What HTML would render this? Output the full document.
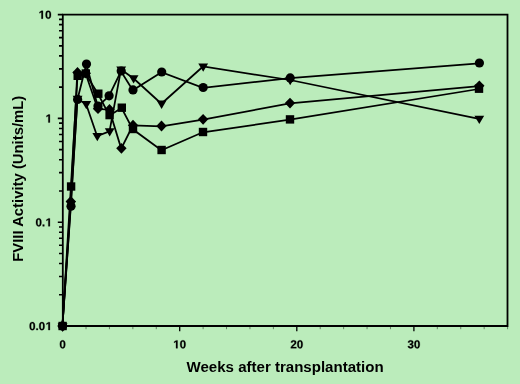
<!DOCTYPE html>
<html><head><meta charset="utf-8"><style>
html,body{margin:0;padding:0;background:#bbecbb;}
body{width:520px;height:384px;overflow:hidden;font-family:"Liberation Sans",sans-serif;}
svg{display:block;filter:blur(0.35px);}
</style></head><body>
<svg width="520" height="384" viewBox="0 0 520 384">
<rect width="520" height="384" fill="#bbecbb"/>
<path d="M62.8 14.7H507.5V326.0H62.8Z" fill="none" stroke="#000" stroke-width="1.8"/>
<path d="M57.8 326.00H62.8 M59.0 294.75H62.8 M59.0 276.47H62.8 M59.0 263.51H62.8 M59.0 253.45H62.8 M59.0 245.23H62.8 M59.0 238.28H62.8 M59.0 232.26H62.8 M59.0 226.95H62.8 M57.8 222.20H62.8 M59.0 190.95H62.8 M59.0 172.67H62.8 M59.0 159.71H62.8 M59.0 149.65H62.8 M59.0 141.43H62.8 M59.0 134.48H62.8 M59.0 128.46H62.8 M59.0 123.15H62.8 M57.8 118.40H62.8 M59.0 87.15H62.8 M59.0 68.87H62.8 M59.0 55.91H62.8 M59.0 45.85H62.8 M59.0 37.63H62.8 M59.0 30.68H62.8 M59.0 24.66H62.8 M59.0 19.35H62.8 M57.8 14.60H62.8" stroke="#000" stroke-width="1.6" fill="none"/>
<path d="M62.60 326.0V331.2 M179.70 326.0V331.2 M296.80 326.0V331.2 M413.90 326.0V331.2" stroke="#000" stroke-width="1.3" fill="none"/>
<path d="M86.02 326.0V329.2 M109.44 326.0V329.2 M132.86 326.0V329.2 M156.28 326.0V329.2 M203.12 326.0V329.2 M226.54 326.0V329.2 M249.96 326.0V329.2 M273.38 326.0V329.2 M320.22 326.0V329.2 M343.64 326.0V329.2 M367.06 326.0V329.2 M390.48 326.0V329.2 M437.32 326.0V329.2 M460.74 326.0V329.2 M484.16 326.0V329.2 M507.58 326.0V329.2" stroke="#000" stroke-opacity="0.45" stroke-width="1" fill="none"/>
<g transform="translate(-0.2 0.3)">
<polyline points="62.6,326.0 71.0,206.2 77.6,99.4 86.5,64.0 98.0,106.0 109.1,95.8 121.2,71.0 133.0,89.9 161.7,72.0 203.2,87.5 290.2,77.9 479.4,63.0" fill="none" stroke="#000" stroke-width="1.75" stroke-linejoin="miter"/>
<polyline points="62.6,326.0 71.0,204.0 77.6,98.6 86.3,103.7 97.3,135.8 109.7,131.0 121.2,69.2 133.6,78.0 161.6,103.4 203.2,66.2 290.2,79.7 479.3,118.6" fill="none" stroke="#000" stroke-width="1.75" stroke-linejoin="miter"/>
<polyline points="62.6,326.0 71.1,186.5 77.7,75.8 85.8,73.5 98.3,93.7 109.6,115.1 121.8,107.7 133.0,129.0 161.6,150.0 203.0,132.0 290.0,119.4 479.0,88.7" fill="none" stroke="#000" stroke-width="1.75" stroke-linejoin="miter"/>
<polyline points="62.6,326.0 70.8,201.4 77.5,72.4 85.8,73.2 98.0,108.7 109.5,109.4 121.4,148.3 133.0,125.2 161.5,126.0 203.1,119.3 290.0,103.1 479.3,85.8" fill="none" stroke="#000" stroke-width="1.75" stroke-linejoin="miter"/>
</g>
<g fill="#000"><rect x="58.4" y="321.8" width="8.4" height="8.4"/><rect x="66.9" y="182.3" width="8.4" height="8.4"/><rect x="73.5" y="71.6" width="8.4" height="8.4"/><rect x="81.6" y="69.3" width="8.4" height="8.4"/><rect x="94.1" y="89.5" width="8.4" height="8.4"/><rect x="105.4" y="110.9" width="8.4" height="8.4"/><rect x="117.6" y="103.5" width="8.4" height="8.4"/><rect x="128.8" y="124.8" width="8.4" height="8.4"/><rect x="157.4" y="145.8" width="8.4" height="8.4"/><rect x="198.8" y="127.8" width="8.4" height="8.4"/><rect x="285.8" y="115.2" width="8.4" height="8.4"/><rect x="474.8" y="84.5" width="8.4" height="8.4"/><polygon points="62.6,320.6 67.8,326.0 62.6,331.4 57.4,326.0"/><polygon points="70.8,196.0 76.0,201.4 70.8,206.8 65.6,201.4"/><polygon points="77.5,67.0 82.7,72.4 77.5,77.8 72.3,72.4"/><polygon points="85.8,67.8 91.0,73.2 85.8,78.6 80.6,73.2"/><polygon points="98.0,103.3 103.2,108.7 98.0,114.1 92.8,108.7"/><polygon points="109.5,104.0 114.7,109.4 109.5,114.8 104.3,109.4"/><polygon points="121.4,142.9 126.6,148.3 121.4,153.7 116.2,148.3"/><polygon points="133.0,119.8 138.2,125.2 133.0,130.6 127.8,125.2"/><polygon points="161.5,120.6 166.7,126.0 161.5,131.4 156.3,126.0"/><polygon points="203.1,113.9 208.3,119.3 203.1,124.7 197.9,119.3"/><polygon points="290.0,97.7 295.2,103.1 290.0,108.5 284.8,103.1"/><polygon points="479.3,80.4 484.5,85.8 479.3,91.2 474.1,85.8"/><polygon points="57.7,323.2 67.5,323.2 62.6,331.5"/><polygon points="66.1,201.2 75.9,201.2 71.0,209.5"/><polygon points="72.7,95.8 82.5,95.8 77.6,104.1"/><polygon points="81.4,100.9 91.2,100.9 86.3,109.2"/><polygon points="92.4,133.0 102.2,133.0 97.3,141.3"/><polygon points="104.8,128.2 114.6,128.2 109.7,136.5"/><polygon points="116.3,66.4 126.1,66.4 121.2,74.7"/><polygon points="128.7,75.2 138.5,75.2 133.6,83.5"/><polygon points="156.7,100.6 166.5,100.6 161.6,108.9"/><polygon points="198.3,63.4 208.1,63.4 203.2,71.7"/><polygon points="285.3,76.9 295.1,76.9 290.2,85.2"/><polygon points="474.4,115.8 484.2,115.8 479.3,124.1"/><circle cx="62.6" cy="326.0" r="4.6"/><circle cx="71.0" cy="206.2" r="4.6"/><circle cx="77.6" cy="99.4" r="4.6"/><circle cx="86.5" cy="64.0" r="4.6"/><circle cx="98.0" cy="106.0" r="4.6"/><circle cx="109.1" cy="95.8" r="4.6"/><circle cx="121.2" cy="71.0" r="4.6"/><circle cx="133.0" cy="89.9" r="4.6"/><circle cx="161.7" cy="72.0" r="4.6"/><circle cx="203.2" cy="87.5" r="4.6"/><circle cx="290.2" cy="77.9" r="4.6"/><circle cx="479.4" cy="63.0" r="4.6"/></g>
<defs><path id="g0" d="M1055 705Q1055 348 932.5 164Q810 -20 565 -20Q81 -20 81 705Q81 958 134 1118Q187 1278 293 1354Q399 1430 573 1430Q823 1430 939 1249Q1055 1068 1055 705ZM773 705Q773 900 754 1008Q735 1116 693 1163Q651 1210 571 1210Q486 1210 442.5 1162.5Q399 1115 380.5 1007.5Q362 900 362 705Q362 512 381.5 403.5Q401 295 443.5 248Q486 201 567 201Q647 201 690.5 250.5Q734 300 753.5 409Q773 518 773 705Z"/><path id="gd" d="M139 0V305H428V0Z"/><path id="g1" d="M478 0V1170L140 959V1180L493 1409H759V0Z"/><path id="g2" d="M71 0V195Q126 316 227.5 431Q329 546 483 671Q631 791 690.5 869Q750 947 750 1022Q750 1206 565 1206Q475 1206 427.5 1157.5Q380 1109 366 1012L83 1028Q107 1224 229.5 1327Q352 1430 563 1430Q791 1430 913 1326Q1035 1222 1035 1034Q1035 935 996 855Q957 775 896 707.5Q835 640 760.5 581Q686 522 616 466Q546 410 488.5 353Q431 296 403 231H1057V0Z"/><path id="g3" d="M1065 391Q1065 193 935 85Q805 -23 565 -23Q338 -23 204 81.5Q70 186 47 383L333 408Q360 205 564 205Q665 205 721 255Q777 305 777 408Q777 502 709 552Q641 602 507 602H409V829H501Q622 829 683 878.5Q744 928 744 1020Q744 1107 695.5 1156.5Q647 1206 554 1206Q467 1206 413.5 1158Q360 1110 352 1022L71 1042Q93 1224 222 1327Q351 1430 559 1430Q780 1430 904.5 1330.5Q1029 1231 1029 1055Q1029 923 951.5 838Q874 753 728 725V721Q890 702 977.5 614.5Q1065 527 1065 391Z"/></defs>
<g fill="#000" stroke="#000" stroke-width="45"><use href="#g1" transform="translate(38.708 18.700) scale(0.005615 -0.005615)"/><use href="#g0" transform="translate(45.104 18.700) scale(0.005615 -0.005615)"/><use href="#g1" transform="translate(45.654 122.500) scale(0.005615 -0.005615)"/><use href="#g0" transform="translate(35.513 226.300) scale(0.005615 -0.005615)"/><use href="#gd" transform="translate(41.909 226.300) scale(0.005615 -0.005615)"/><use href="#g1" transform="translate(45.654 226.300) scale(0.005615 -0.005615)"/><use href="#g0" transform="translate(29.118 330.100) scale(0.005615 -0.005615)"/><use href="#gd" transform="translate(35.513 330.100) scale(0.005615 -0.005615)"/><use href="#g0" transform="translate(38.708 330.100) scale(0.005615 -0.005615)"/><use href="#g1" transform="translate(45.654 330.100) scale(0.005615 -0.005615)"/><use href="#g0" transform="translate(59.402 348.300) scale(0.005615 -0.005615)"/><use href="#g1" transform="translate(173.304 348.300) scale(0.005615 -0.005615)"/><use href="#g0" transform="translate(179.700 348.300) scale(0.005615 -0.005615)"/><use href="#g2" transform="translate(290.404 348.300) scale(0.005615 -0.005615)"/><use href="#g0" transform="translate(296.800 348.300) scale(0.005615 -0.005615)"/><use href="#g3" transform="translate(407.504 348.300) scale(0.005615 -0.005615)"/><use href="#g0" transform="translate(413.900 348.300) scale(0.005615 -0.005615)"/></g>
<g font-family="Liberation Sans" font-weight="bold" fill="#000"><text x="285.1" y="372.1" text-anchor="middle" font-size="15.05">Weeks after transplantation</text><text transform="translate(22.6 178.75) rotate(-90)" text-anchor="middle" font-size="14.85">FVIII Activity (Units/mL)</text></g>
</svg>
</body></html>
